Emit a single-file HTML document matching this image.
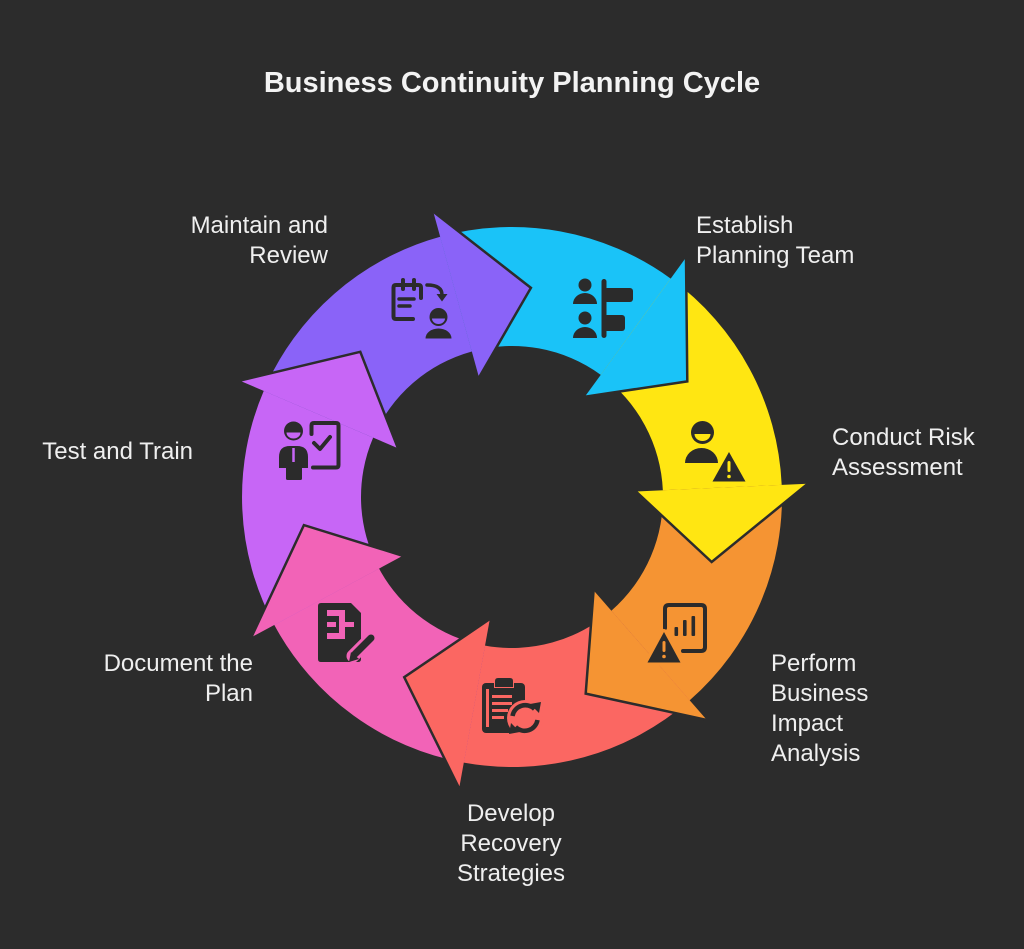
<!DOCTYPE html>
<html>
<head>
<meta charset="utf-8">
<style>
  html,body{margin:0;padding:0;background:#2c2c2c;}
  body{width:1024px;height:949px;overflow:hidden;}
  svg{display:block;}
  text{font-family:"Liberation Sans",Arial,sans-serif;fill:#efefef;}
</style>
</head>
<body>
<svg width="1024" height="949" viewBox="0 0 1024 949" xmlns="http://www.w3.org/2000/svg">
  <rect x="0" y="0" width="1024" height="949" fill="#2c2c2c"/>
  <defs>
    <path id="bd" d="M440.15 236.75 A270 270 0 0 1 670.7 278.6 L600.76 374.84 A151 151 0 0 0 471.82 351.45 Z"/>
    <path id="hd" d="M686 257.5 L687.3 381.4 L584.89 396.68 Z"/>
    <polyline id="ed" points="686,257.5 687.3,381.4 584.89,396.68" fill="none" stroke="#2c2c2c" stroke-width="2.5" stroke-linejoin="miter"/>
  </defs>

  <!-- bodies -->
  <use href="#bd" fill="#1AC3F8"/>
  <use href="#bd" fill="#FFE612" transform="rotate(51.4286 512 497)"/>
  <use href="#bd" fill="#F59433" transform="rotate(102.8571 512 497)"/>
  <use href="#bd" fill="#FB6762" transform="rotate(154.2857 512 497)"/>
  <use href="#bd" fill="#F263B7" transform="rotate(205.7143 512 497)"/>
  <use href="#bd" fill="#C766F6" transform="rotate(257.1429 512 497)"/>
  <use href="#bd" fill="#8A63F8" transform="rotate(308.5714 512 497)"/>

  <!-- heads -->
  <g><use href="#hd" fill="#1AC3F8"/><use href="#ed"/></g>
  <g transform="rotate(51.4286 512 497)"><use href="#hd" fill="#FFE612"/><use href="#ed"/></g>
  <g transform="rotate(102.8571 512 497)"><use href="#hd" fill="#F59433"/><use href="#ed"/></g>
  <g transform="rotate(154.2857 512 497)"><use href="#hd" fill="#FB6762"/><use href="#ed"/></g>
  <g transform="rotate(205.7143 512 497)"><use href="#hd" fill="#F263B7"/><use href="#ed"/></g>
  <g transform="rotate(257.1429 512 497)"><use href="#hd" fill="#C766F6"/><use href="#ed"/></g>
  <g transform="rotate(308.5714 512 497)"><use href="#hd" fill="#8A63F8"/><use href="#ed"/></g>

  <!-- Icon: Establish Planning Team (blue) -->
  <g fill="#2b2b2b">
    <circle cx="585" cy="285" r="6.5"/>
    <path d="M573 304 A12 11 0 0 1 597 304 Z"/>
    <circle cx="585" cy="318" r="6.5"/>
    <path d="M573 338 A12 11 0 0 1 597 338 Z"/>
    <rect x="601.5" y="279" width="5" height="59" rx="2.5"/>
    <rect x="604" y="288" width="29" height="14" rx="3"/>
    <rect x="604" y="315" width="21" height="16" rx="3"/>
  </g>

  <!-- Icon: Conduct Risk Assessment (yellow) -->
  <g>
    <circle cx="702.5" cy="432.5" r="11.5" fill="#2b2b2b"/>
    <path d="M694.5 434 A8 7 0 0 0 710.5 434 Z" fill="#FFE612"/>
    <path d="M685 463 A16.5 15 0 0 1 718 463 Z" fill="#2b2b2b"/>
    <path d="M729 452 L745.5 481.5 L712.5 481.5 Z" fill="#2b2b2b" stroke="#FFE612" stroke-width="6" stroke-linejoin="round" paint-order="stroke"/>
    <rect x="727.5" y="461" width="3" height="11" rx="1.5" fill="#FFE612"/>
    <circle cx="729" cy="476.5" r="1.8" fill="#FFE612"/>
  </g>

  <!-- Icon: Perform BIA (orange) -->
  <g>
    <path d="M665 628 V609 Q665 605 669 605 H701 Q705 605 705 609 V647 Q705 651 701 651 H683" fill="none" stroke="#2b2b2b" stroke-width="4" stroke-linecap="round" stroke-linejoin="round"/>
    <rect x="674.5" y="627" width="3.6" height="9" rx="1" fill="#2b2b2b"/>
    <rect x="683" y="620" width="3.6" height="16" rx="1" fill="#2b2b2b"/>
    <rect x="691.5" y="616" width="3.6" height="20" rx="1" fill="#2b2b2b"/>
    <path d="M664 632 L680.5 662.5 L647.5 662.5 Z" fill="#2b2b2b" stroke="#F59433" stroke-width="6" stroke-linejoin="round" paint-order="stroke"/>
    <rect x="662.5" y="641" width="3" height="11" rx="1.5" fill="#F59433"/>
    <circle cx="664" cy="656.5" r="1.8" fill="#F59433"/>
  </g>

  <!-- Icon: Develop Recovery Strategies (red) -->
  <g>
    <rect x="482" y="683" width="43" height="50" rx="4" fill="#2b2b2b"/>
    <path d="M495 687 V681 Q495 678 498 678 H510 Q513 678 513 681 V687 Z" fill="#2b2b2b" stroke="#FB6762" stroke-width="2" paint-order="stroke"/>
    <rect x="486" y="689" width="3" height="38" fill="#FB6762"/>
    <rect x="492" y="695" width="20" height="3" fill="#FB6762"/>
    <rect x="492" y="702" width="20" height="3" fill="#FB6762"/>
    <rect x="492" y="709" width="16" height="3" fill="#FB6762"/>
    <rect x="492" y="716" width="12" height="3" fill="#FB6762"/>
    <circle cx="525" cy="718" r="18" fill="#FB6762"/>
    <path d="M512.5 716 A13 13 0 0 1 534.5 709" fill="none" stroke="#2b2b2b" stroke-width="4.5"/>
    <polygon points="530,704 541,702 539,713" fill="#2b2b2b"/>
    <path d="M537.5 720 A13 13 0 0 1 515.5 727" fill="none" stroke="#2b2b2b" stroke-width="4.5"/>
    <polygon points="520,732 509,734 511,723" fill="#2b2b2b"/>
  </g>

  <!-- Icon: Document the Plan (pink) -->
  <g>
    <path d="M321 603 H351 L361 613 V659 Q361 662 358 662 H321 Q318 662 318 659 V606 Q318 603 321 603 Z" fill="#2b2b2b"/>
    <rect x="327" y="610" width="18" height="6" fill="#F263B7"/>
    <rect x="327" y="633" width="18" height="6" fill="#F263B7"/>
    <rect x="339" y="610" width="6" height="29" fill="#F263B7"/>
    <rect x="327" y="622" width="9" height="5" fill="#F263B7"/>
    <rect x="345" y="622" width="9" height="5" fill="#F263B7"/>
    <path d="M353 656 L372 637" stroke="#F263B7" stroke-width="13" stroke-linecap="round"/>
    <path d="M355 654 L371 638" stroke="#2b2b2b" stroke-width="7" stroke-linecap="round"/>
    <polygon points="349,662 351,652 359,659" fill="#2b2b2b"/>
  </g>

  <!-- Icon: Test and Train (violet) -->
  <g>
    <circle cx="293.5" cy="431" r="9.5" fill="#2b2b2b"/>
    <path d="M286.5 432.5 A7 6 0 0 0 300.5 432.5 Z" fill="#C766F6"/>
    <path d="M279 468 V457 Q279 446 290 446 H297 Q308 446 308 457 V468 Z" fill="#2b2b2b"/>
    <rect x="286" y="465" width="16" height="15" rx="1.5" fill="#2b2b2b"/>
    <path d="M293.5 448 V462" stroke="#C766F6" stroke-width="2.5"/>
    <path d="M311.5 434 V425.5 Q311.5 423 314 423 H336 Q338.5 423 338.5 425.5 V465 Q338.5 467.5 336 467.5 H313" fill="none" stroke="#2b2b2b" stroke-width="4" stroke-linecap="round"/>
    <polyline points="314,443 320,449 330,437" fill="none" stroke="#2b2b2b" stroke-width="4" stroke-linecap="round" stroke-linejoin="round"/>
  </g>

  <!-- Icon: Maintain and Review (purple) -->
  <g>
    <path d="M413 319 H396 Q393.5 319 393.5 316.5 V287.5 Q393.5 285 396 285 H418.5 Q421 285 421 287.5 V298" fill="none" stroke="#2b2b2b" stroke-width="4" stroke-linecap="round"/>
    <path d="M403 280 V289 M414 280 V289" stroke="#2b2b2b" stroke-width="4" stroke-linecap="round"/>
    <path d="M399 299 H414 M399 306 H410" stroke="#2b2b2b" stroke-width="3.5" stroke-linecap="round"/>
    <path d="M427 285 Q442 285 442 295" fill="none" stroke="#2b2b2b" stroke-width="3.5" stroke-linecap="round"/>
    <polygon points="436.5,294 447.5,294 442,301.5" fill="#2b2b2b"/>
    <circle cx="438.5" cy="317" r="9" fill="#2b2b2b"/>
    <path d="M432 318.5 A6.5 5.5 0 0 0 445 318.5 Z" fill="#8A63F8"/>
    <path d="M425.5 338.5 A13 10 0 0 1 451.5 338.5 Z" fill="#2b2b2b"/>
  </g>

  <!-- Title -->
  <text x="512" y="92" text-anchor="middle" font-size="29" font-weight="bold" style="fill:#f3f3f3">Business Continuity Planning Cycle</text>

  <!-- Labels -->
  <g font-size="24">
    <text x="328" y="233" text-anchor="end">Maintain and</text>
    <text x="328" y="263" text-anchor="end">Review</text>

    <text x="696" y="233">Establish</text>
    <text x="696" y="263">Planning Team</text>

    <text x="832" y="445">Conduct Risk</text>
    <text x="832" y="475">Assessment</text>

    <text x="771" y="671">Perform</text>
    <text x="771" y="701">Business</text>
    <text x="771" y="731">Impact</text>
    <text x="771" y="761">Analysis</text>

    <text x="511" y="821" text-anchor="middle">Develop</text>
    <text x="511" y="851" text-anchor="middle">Recovery</text>
    <text x="511" y="881" text-anchor="middle">Strategies</text>

    <text x="253" y="671" text-anchor="end">Document the</text>
    <text x="253" y="701" text-anchor="end">Plan</text>

    <text x="193" y="459" text-anchor="end">Test and Train</text>
  </g>
</svg>
</body>
</html>
